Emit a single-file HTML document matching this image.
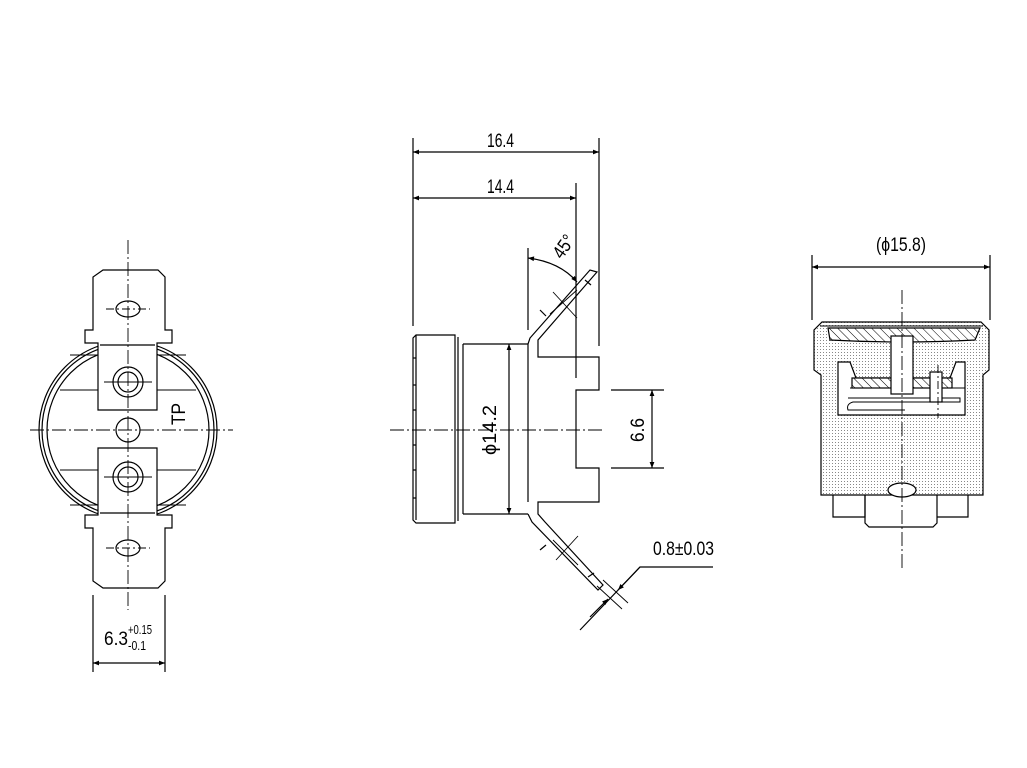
<!DOCTYPE html>
<html><head><meta charset="utf-8"><style>
html,body{margin:0;padding:0;background:#fff;}
svg{display:block;}
text{font-family:"Liberation Sans",sans-serif;fill:#000;}
</style></head><body>
<svg width="1027" height="768" viewBox="0 0 1027 768" xmlns="http://www.w3.org/2000/svg">
<defs>
<pattern id="dots" width="3" height="3" patternUnits="userSpaceOnUse"><rect width="3" height="3" fill="#fff"/><rect x="1" y="1" width="1" height="1" fill="#888"/></pattern>
<pattern id="hatch" width="6" height="6" patternUnits="userSpaceOnUse" patternTransform="rotate(-45)"><rect width="6" height="6" fill="#fff"/><line x1="0" y1="0" x2="0" y2="6" stroke="#000" stroke-width="1"/></pattern>
<marker id="a" viewBox="0 0 10 10" refX="10" refY="5" markerWidth="14" markerHeight="6" markerUnits="userSpaceOnUse" orient="auto-start-reverse"><path d="M0,1 L10,5 L0,9 z" fill="#000"/></marker>
</defs>
<g fill="none" stroke="#000" stroke-width="1.2">
<!-- LEFT VIEW -->
<circle cx="128" cy="430" r="89"/>
<circle cx="128" cy="430" r="86"/>
<circle cx="128" cy="430" r="81"/>
<path d="M103,270 H158 L165,277 V330 H172 V343 H157 V410 H98 V343 H85 V330 H93 V277 Z" fill="#fff"/>
<path d="M103,588 H158 L165,581 V528 H172 V515 H157 V448 H98 V515 H85 V528 H93 V581 Z" fill="#fff"/>
<path d="M98,355 H70 M98,390 H60 M157,355 H186 M157,390 H196 M98,470 H60 M98,505 H70 M157,470 H196 M157,505 H186" stroke-width="1"/>
<line x1="100" y1="345" x2="155" y2="345"/><line x1="100" y1="513" x2="155" y2="513"/>
<ellipse cx="128" cy="309" rx="12" ry="8"/><ellipse cx="128" cy="548" rx="12" ry="8"/>
<circle cx="128" cy="382" r="15"/><circle cx="128" cy="382" r="10"/>
<circle cx="128" cy="477" r="15"/><circle cx="128" cy="477" r="10"/>
<circle cx="128" cy="430" r="12"/>
<line x1="128" y1="240" x2="128" y2="610" stroke-width="0.9" stroke-dasharray="14,3,2,3"/>
<line x1="30" y1="430" x2="233" y2="430" stroke-width="0.9" stroke-dasharray="14,3,2,3"/>
<line x1="106" y1="309" x2="150" y2="309" stroke-dasharray="8,3,2,3" stroke-width="0.9"/>
<line x1="106" y1="548" x2="150" y2="548" stroke-dasharray="8,3,2,3" stroke-width="0.9"/>
<line x1="104" y1="382" x2="152" y2="382" stroke-width="0.9"/><line x1="104" y1="477" x2="152" y2="477" stroke-width="0.9"/>
<line x1="93" y1="595" x2="93" y2="672"/><line x1="165" y1="595" x2="165" y2="672"/>
<line x1="93" y1="663" x2="165" y2="663" marker-start="url(#a)" marker-end="url(#a)"/>

<!-- MIDDLE VIEW -->
<path d="M416,335 H455 V523 H416 L413,520 V338 Z"/>
<line x1="458" y1="337" x2="458" y2="521"/><line x1="463" y1="344" x2="463" y2="514"/>
<line x1="413" y1="358" x2="416" y2="358"/><line x1="413" y1="385" x2="416" y2="385"/>
<path d="M416,335 V520 M413,410 h3 M413,445 h3 M413,470 h3 M413,498 h3"/>
<line x1="463" y1="344" x2="528" y2="344"/><line x1="463" y1="514" x2="528" y2="514"/>
<path d="M528,357 V344 L530,338 L590,270 L597,272 L538,340 L538,357 H599 V390 H576 V468 H599 V502 H538 V514 L545,522 L603,585 L598,590 L532,522 L528,514"/>
<line x1="528" y1="357" x2="528" y2="502"/>
<line x1="540" y1="310" x2="546" y2="316"/><line x1="585" y1="280" x2="591" y2="285"/>
<line x1="540" y1="550" x2="546" y2="545"/><line x1="588" y1="577" x2="594" y2="573"/>
<line x1="553" y1="292" x2="577" y2="318" stroke-width="0.9"/><line x1="550" y1="314" x2="577" y2="290" stroke-width="0.9"/>
<line x1="556" y1="560" x2="578" y2="536" stroke-width="0.9"/><line x1="553" y1="540" x2="578" y2="565" stroke-width="0.9"/>
<line x1="390" y1="430" x2="603" y2="430" stroke-width="0.9" stroke-dasharray="14,3,2,3"/>
<line x1="509" y1="344" x2="509" y2="514" marker-start="url(#a)" marker-end="url(#a)"/>
<line x1="611" y1="390" x2="664" y2="390"/><line x1="611" y1="468" x2="664" y2="468"/>
<line x1="652" y1="390" x2="652" y2="468" marker-start="url(#a)" marker-end="url(#a)"/>
<line x1="413" y1="138" x2="413" y2="326"/><line x1="599" y1="138" x2="599" y2="346"/>
<line x1="576" y1="183" x2="576" y2="378"/>
<line x1="413" y1="152" x2="599" y2="152" marker-start="url(#a)" marker-end="url(#a)"/>
<line x1="413" y1="198" x2="576" y2="198" marker-start="url(#a)" marker-end="url(#a)"/>
<line x1="528" y1="248" x2="528" y2="330"/>
<path d="M528,258 Q560,262 577,282" marker-start="url(#a)" marker-end="url(#a)"/>
<path d="M713,567 H640 L580,630" />
<line x1="640" y1="567" x2="618" y2="590" marker-end="url(#a)"/>
<line x1="590" y1="617" x2="608" y2="599" marker-end="url(#a)"/>
<line x1="597" y1="586" x2="622" y2="609" stroke-width="0.9"/><line x1="603" y1="580" x2="628" y2="603" stroke-width="0.9"/>

<!-- RIGHT VIEW -->
<line x1="812" y1="255" x2="812" y2="320"/><line x1="990" y1="255" x2="990" y2="320"/>
<line x1="812" y1="267" x2="990" y2="267" marker-start="url(#a)" marker-end="url(#a)"/>
<path d="M821,495 V375 L814,370 V330 L822,322 H981 L989,330 V370 L983,375 V495 Z" fill="url(#dots)"/>
<path d="M820,326 H983" stroke-width="1"/>
<path d="M838,415 V362 H850 L856,378 H950 L956,362 H965 V415 Z" fill="#fff"/>
<path d="M850,388 H965" stroke-width="0.9"/>
<rect x="852" y="378" width="40" height="10" fill="url(#hatch)"/>
<rect x="912" y="378" width="40" height="10" fill="url(#hatch)"/>
<path d="M828,328 H980 L975,340 Q902,344 830,340 Z" fill="url(#hatch)"/>
<path d="M848,398 H960 V402 H853 Q846,404 848,410 H905" stroke-width="1"/>
<rect x="891" y="336" width="22" height="58" fill="#fff"/>
<rect x="930" y="372" width="12" height="30" fill="#fff"/>
<ellipse cx="902" cy="490" rx="14" ry="7" fill="#fff"/>
<path d="M833,495 V517 H865 V495 M968,495 V517 H937"/>
<path d="M865,495 V523 L869,527 H933 L937,523 V495"/>
<line x1="902" y1="290" x2="902" y2="570" stroke-width="0.9" stroke-dasharray="14,3,2,3"/>
<line x1="938" y1="365" x2="938" y2="418" stroke-width="0.9" stroke-dasharray="8,3,2,3"/>
</g>
<g font-size="19">
<text x="487" y="147" textLength="27" lengthAdjust="spacingAndGlyphs">16.4</text>
<text x="487" y="193" textLength="27" lengthAdjust="spacingAndGlyphs">14.4</text>
<text x="876" y="251" textLength="50" lengthAdjust="spacingAndGlyphs">(ϕ15.8)</text>
<text x="653" y="555" textLength="61" lengthAdjust="spacingAndGlyphs">0.8±0.03</text>
<text x="104" y="645" textLength="24" lengthAdjust="spacingAndGlyphs">6.3</text>
<text x="128" y="634" font-size="13" textLength="24" lengthAdjust="spacingAndGlyphs">+0.15</text>
<text x="128" y="650" font-size="13" textLength="18" lengthAdjust="spacingAndGlyphs">-0.1</text>
<text transform="translate(185,425) rotate(-90)" textLength="22" lengthAdjust="spacingAndGlyphs">TP</text>
<text transform="translate(496,455) rotate(-90)" textLength="50" lengthAdjust="spacingAndGlyphs">ϕ14.2</text>
<text transform="translate(644,442) rotate(-90)" textLength="24" lengthAdjust="spacingAndGlyphs">6.6</text>
<text transform="translate(562,260) rotate(-55)" textLength="24" lengthAdjust="spacingAndGlyphs">45°</text>
</g>
</svg>
</body></html>
